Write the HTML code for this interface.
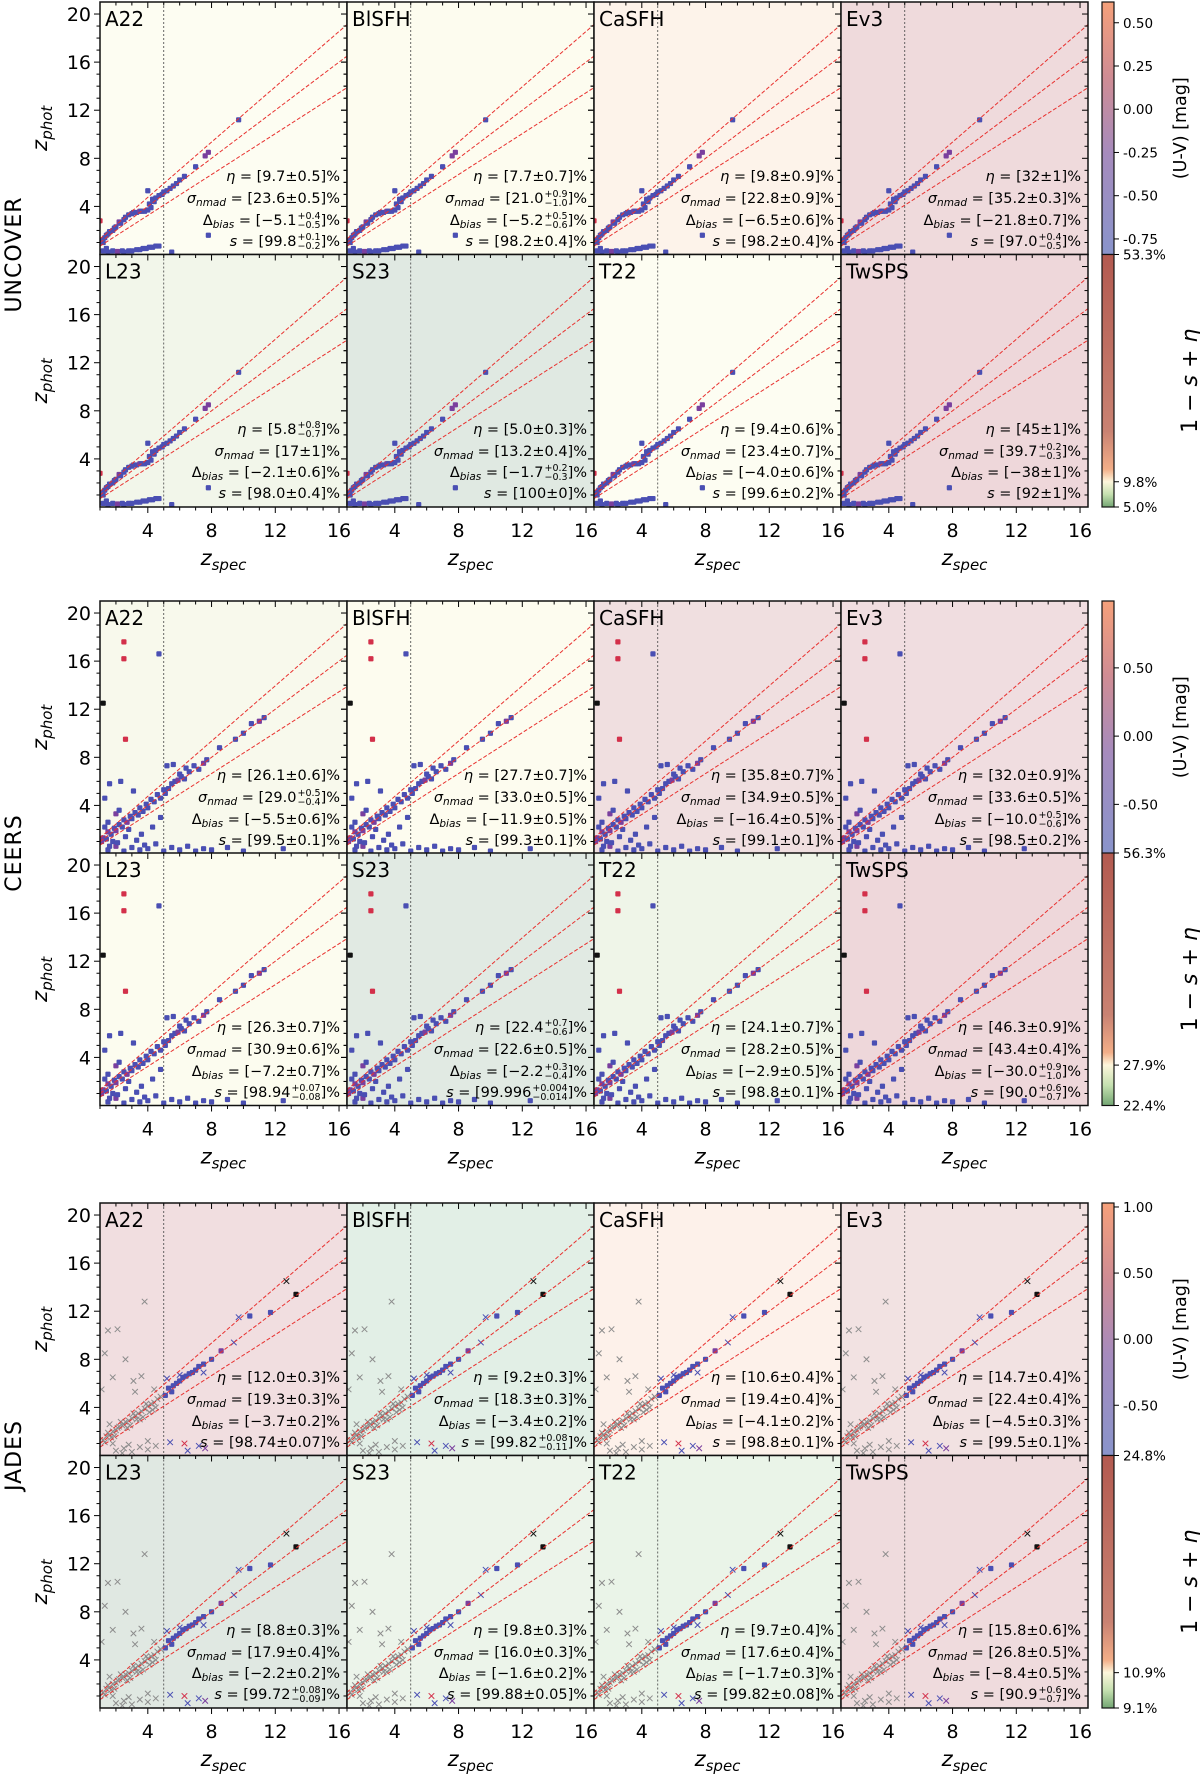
<!DOCTYPE html>
<html><head><meta charset="utf-8">
<style>
html,body{margin:0;padding:0;background:#fff;}
#wrap{position:relative;width:1200px;height:1774px;overflow:hidden;font-family:"DejaVu Sans","Liberation Sans",sans-serif;}
svg{position:absolute;left:0;top:0;}
.stat{position:absolute;font-size:14.5px;line-height:16px;white-space:nowrap;color:#000;transform:translateY(-50%);}
.stat sub{font-size:10.5px;vertical-align:-3px;line-height:0;}
.st{display:inline-block;vertical-align:middle;font-size:9.5px;line-height:9px;text-align:left;margin-left:1px;}
.st span{display:block;}
</style></head>
<body>
<div id="wrap">
<svg id="fig" width="1200" height="1774" xmlns="http://www.w3.org/2000/svg"></svg>
</div>
<script>
// ---------- data ----------
const surveys = ["UNCOVER","CEERS","JADES"];
const models = [["A22","BlSFH","CaSFH","Ev3"],["L23","S23","T22","TwSPS"]];
const bgColors = [
 [["#fdfdf2","#fdfcef","#fdf3ea","#efdadc"],["#f2f6ea","#e0e9e2","#fdfdf2","#eed7da"]],
 [["#f8f9ec","#fdfcef","#f0dfe0","#f0dde0"],["#fcfcef","#e1eae3","#eff5e8","#eed7da"]],
 [["#f1dee0","#e2efe6","#fdf1ea","#f2e2e2"],["#e0e8e2","#ecf4ea","#eaf4e8","#efdbdd"]]
];
const etaVals = [
 [["9.7±0.5","7.7±0.7","9.8±0.9","32±1"],["5.8|+0.8|-0.7","5.0±0.3","9.4±0.6","45±1"]],
 [["26.1±0.6","27.7±0.7","35.8±0.7","32.0±0.9"],["26.3±0.7","22.4|+0.7|-0.6","24.1±0.7","46.3±0.9"]],
 [["12.0±0.3","9.2±0.3","10.6±0.4","14.7±0.4"],["8.8±0.3","9.8±0.3","9.7±0.4","15.8±0.6"]]
];
const sigmaVals = [
 [["23.6±0.5","21.0|+0.9|-1.0","22.8±0.9","35.2±0.3"],["17±1","13.2±0.4","23.4±0.7","39.7|+0.2|-0.3"]],
 [["29.0|+0.5|-0.4","33.0±0.5","34.9±0.5","33.6±0.5"],["30.9±0.6","22.6±0.5","28.2±0.5","43.4±0.4"]],
 [["19.3±0.3","18.3±0.3","19.4±0.4","22.4±0.4"],["17.9±0.4","16.0±0.3","17.6±0.4","26.8±0.5"]]
];
const biasVals = [
 [["-5.1|+0.4|-0.5","-5.2|+0.5|-0.6","-6.5±0.6","-21.8±0.7"],["-2.1±0.6","-1.7|+0.2|-0.3","-4.0±0.6","-38±1"]],
 [["-5.5±0.6","-11.9±0.5","-16.4±0.5","-10.0|+0.5|-0.6"],["-7.2±0.7","-2.2|+0.3|-0.4","-2.9±0.5","-30.0|+0.9|-1.0"]],
 [["-3.7±0.2","-3.4±0.2","-4.1±0.2","-4.5±0.3"],["-2.2±0.2","-1.6±0.2","-1.7±0.3","-8.4±0.5"]]
];
const sVals = [
 [["99.8|+0.1|-0.2","98.2±0.4","98.2±0.4","97.0|+0.4|-0.5"],["98.0±0.4","100±0","99.6±0.2","92±1"]],
 [["99.5±0.1","99.3±0.1","99.1±0.1","98.5±0.2"],["98.94|+0.07|-0.08","99.996|+0.004|-0.014","98.8±0.1","90.0|+0.6|-0.7"]],
 [["98.74±0.07","99.82|+0.08|-0.11","98.8±0.1","99.5±0.1"],["99.72|+0.08|-0.09","99.88±0.05","99.82±0.08","90.9|+0.6|-0.7"]]
];
const xTicks = [4,8,12,16];
const yTicks = [4,8,12,16,20];
// UNCOVER points
const uZspec = [1.1,1.2,1.3,1.4,1.5,1.6,1.8,1.9,2.0,2.2,2.3,2.5,2.6,2.8,3.0,3.1,3.3,3.5,3.6,3.8,4.0,4.1,4.2,4.3,4.4,4.5,4.7,4.9,5.0,5.2,5.4,5.6,5.8,6.0,6.3,7.0,7.6,7.8,9.7,1.0,1.2,1.5,1.8,2.1,2.5,2.8,3.0,3.3,3.5,3.7,3.9,4.1,4.3,4.5,4.7,5.5,4.0,7.8,1.4,2.4];
const uZphot = [1.2,1.0,1.4,1.6,1.7,1.9,2.0,2.2,2.3,2.7,2.6,2.9,3.1,3.3,3.4,3.5,3.5,3.6,3.6,3.6,3.7,4.2,3.9,4.6,4.4,4.7,4.9,5.0,5.2,5.3,5.5,5.7,5.9,6.2,6.5,7.3,8.2,8.5,11.2,2.8,0.3,0.2,0.3,0.25,0.2,0.3,0.3,0.4,0.4,0.5,0.5,0.6,0.6,0.7,0.7,0.2,5.3,1.6,0.5,0.3];
const uColor = "bbbbbbbbbpbbbbbbbpbbbbbbbbbbbbbbbbbbppbrbbbpbbbbbbbbbbbbbbbb";
// CEERS points
const cZspec = [1.2,1.4,1.5,1.7,1.9,2.0,2.2,2.4,2.5,2.7,2.9,3.0,3.2,3.4,3.5,3.7,3.9,4.0,4.2,4.4,4.6,4.8,5.0,5.1,5.3,5.5,5.7,5.9,6.1,6.3,6.6,6.9,7.2,7.5,7.7,8.5,9.5,10.0,10.5,11.0,11.3,1.3,1.6,2.0,2.3,2.8,3.1,3.6,4.3,4.8,5.2,1.5,2.0,2.5,3.0,3.5,4.0,4.5,5.0,5.5,6.0,6.5,7.0,7.5,8.0,9.0,10.0,12.5,1.5,1.8,2.2,2.5,2.5,4.7,2.6,1.2,1.1,1.3,1.6,2.1,2.6,3.3,3.8,5.6,6.0,6.4];
const cZphot = [1.3,1.2,1.8,1.6,2.1,1.9,2.4,2.2,2.8,2.6,3.1,2.9,3.4,3.2,3.8,3.5,4.1,3.8,4.5,4.3,4.9,4.6,5.3,5.0,5.4,5.8,6.0,6.1,6.4,6.2,6.8,7.3,7.0,7.5,7.8,8.8,9.5,10.0,10.8,11.0,11.3,4.6,5.8,3.3,6.0,2.0,5.2,1.6,2.2,3.0,7.3,0.3,0.6,0.2,0.5,0.3,0.4,0.8,0.2,0.5,0.3,0.6,0.2,0.4,0.3,0.5,0.2,0.4,2.6,1.0,3.6,17.6,16.2,16.6,9.5,12.5,1.0,2.2,0.6,0.9,1.4,1.1,0.7,7.4,6.6,7.1];
const cColor = "pbpbbpbbbpbbbbbbbbbbbbbbbbbpbbbbbpbbbbbpbbbpbbbbbbbbpbbbbbbbbbbbbbbbbbbrrbrkpbbbbbbbbb";
// JADES points: 58 grey crosses, 18 dots, 11 crosses
const jZspec = [1.2,1.4,1.6,1.8,2.0,2.2,2.4,2.6,2.8,3.0,3.2,3.4,3.6,3.8,4.0,4.2,4.4,4.6,4.8,1.5,1.9,2.3,2.7,3.1,3.5,3.9,4.3,1.3,1.5,1.8,2.1,2.6,3.1,3.8,4.4,2.0,2.5,3.0,3.5,4.0,4.5,1.8,2.8,1.3,1.7,2.1,2.5,2.9,3.3,3.7,4.1,4.5,3.2,3.6,1.1,1.6,4.0,2.4,
 5.1,5.3,5.5,5.6,5.8,6.0,6.2,6.4,6.6,6.8,7.0,7.2,7.5,8.0,8.6,10.4,11.7,13.3,
 5.2,6.0,7.5,9.4,9.7,5.4,6.3,7.2,7.6,6.5,12.7];
const jZphot = [1.3,1.6,1.7,2.0,2.1,2.4,2.5,2.8,2.9,3.1,3.3,3.5,3.7,3.9,4.1,4.3,4.4,4.7,4.9,1.9,1.6,2.8,2.3,3.5,3.0,4.3,3.8,8.5,10.4,6.5,10.5,8.0,6.2,12.8,5.5,0.4,0.6,0.3,0.7,0.5,0.8,1.0,0.9,1.1,1.5,2.3,2.6,2.5,3.0,3.2,3.6,4.0,5.3,6.6,5.5,2.6,1.2,0.2,
 5.0,5.6,5.3,5.8,6.0,6.2,6.5,6.6,6.8,6.9,7.1,7.4,7.6,8.0,8.7,11.6,11.9,13.4,
 6.4,6.7,6.9,9.4,11.5,1.1,1.0,0.8,0.6,0.4,14.5];
const jColor = "g".repeat(58) + "bbbbbbbbbbbbbbpbbk" + "bbbbbbrbpbk";
const jMarker = "x".repeat(58) + "o".repeat(18) + "x".repeat(11);
const cbTopTicks = [[0.50,0.25,0.00,-0.25,-0.50,-0.75],[0.50,0.00,-0.50],[1.00,0.50,0.00,-0.50]];
const cbTopRange = [[0.62,-0.84],[0.99,-0.86],[1.03,-0.88]];
const cbBotLabels = [["53.3%","9.8%","5.0%"],["56.3%","27.9%","22.4%"],["24.8%","10.9%","9.1%"]];
const cbBotMidFrac = [0.90,0.84,0.86];

// ---------- geometry ----------
const colX = [100,347,594,841];
const PW = 247, PH = 252.5;
const rowTops = [[2,254.5],[601,853],[1203,1455.5]];
const XMIN = 1, XMAX = 16.5, YMIN = 0, YMAX = 21;
const svg = document.getElementById('fig');
const wrap = document.getElementById('wrap');
const NS = "http://www.w3.org/2000/svg";
const FF = 'DejaVu Sans, Liberation Sans, sans-serif';
function mk(tag, attrs, parent){ const e=document.createElementNS(NS,tag); for(const k in attrs) e.setAttribute(k,attrs[k]); (parent||svg).appendChild(e); return e; }
function xs(left,v){ return left + (v-XMIN)/(XMAX-XMIN)*PW; }
function ys(top,v){ return top + (YMAX-v)/(YMAX-YMIN)*PH; }
const colMap = {b:"#4a4fb3",p:"#7a3f9e",r:"#d3304a",k:"#111111",g:"#8c8c8c"};
const pointSets = [
 {zs:uZspec,zp:uZphot,c:uColor,m:null},
 {zs:cZspec,zp:cZphot,c:cColor,m:null},
 {zs:jZspec,zp:jZphot,c:jColor,m:jMarker}
];
function fmt(v){
  if(v.indexOf('|')>=0){ const p=v.split('|'); return p[0].replace('-','−')+'<span class="st"><span>'+p[1]+'</span><span>'+p[2].replace('-','−')+'</span></span>'; }
  return v.replace('-','−');
}

let clipId=0;
for(let g=0; g<3; g++){
  for(let r=0; r<2; r++){
    const top = rowTops[g][r];
    for(let c=0; c<4; c++){
      const left = colX[c];
      const pg = mk('g',{});
      
      
      const bg = mk('rect',{x:left,y:top,width:PW,height:PH,fill:bgColors[g][r][c]},pg);
      
      
      const cp = mk('clipPath',{id:'cp'+clipId},pg);
      mk('rect',{x:left,y:top,width:PW,height:PH},cp);
      const inner = mk('g',{'clip-path':'url(#cp'+clipId+')'},pg);
      clipId++;
      const vl = mk('line',{x1:xs(left,5),x2:xs(left,5),y1:top,y2:top+PH,stroke:'#444','stroke-width':0.8,'stroke-dasharray':'2,2'},inner);
      
      
      const ps = pointSets[g];
      for(let i=0;i<ps.zs.length;i++){
        const px = xs(left,ps.zs[i]), py = ys(top,ps.zp[i]);
        const col = colMap[ps.c[i]] || colMap.b;
        const mark = ps.m ? ps.m[i] : 'o';
        let el;
        if(mark==='x'){
          el = mk('path',{d:`M${px-2.8},${py-2.8}L${px+2.8},${py+2.8}M${px-2.8},${py+2.8}L${px+2.8},${py-2.8}`,stroke:col,'stroke-width':1,fill:'none'},inner);
        } else {
          el = mk('rect',{x:px-2.6,y:py-2.6,width:5.2,height:5.2,rx:1,fill:col},inner);
        }
        
        
      }
      [1.15,1.0,0.85].forEach(f=>{
        const l = mk('line',{x1:xs(left,XMIN),y1:ys(top,(1+XMIN)*f-1),x2:xs(left,XMAX),y2:ys(top,(1+XMAX)*f-1),stroke:'#e8312f','stroke-width':1,'stroke-dasharray':'4,2'},inner);
        
        
      });
      for(let v=1; v<=16; v++){
        const major = v%4===0, px = xs(left,v), L = major?6:3.5;
        mk('line',{x1:px,x2:px,y1:top+PH,y2:top+PH+L,stroke:'#000','stroke-width':1},pg);
        mk('line',{x1:px,x2:px,y1:top,y2:top+L,stroke:'#000','stroke-width':1},pg);
      }
      for(let v=1; v<=20; v++){
        const major = v%4===0, py = ys(top,v), L = major?6:3.5;
        mk('line',{x1:left-L,x2:left,y1:py,y2:py,stroke:'#000','stroke-width':1},pg);
        mk('line',{x1:left+PW-L,x2:left+PW,y1:py,y2:py,stroke:'#000','stroke-width':1},pg);
      }
      const fr = mk('rect',{x:left,y:top,width:PW,height:PH,fill:'none',stroke:'#111','stroke-width':1.5},pg);
      
      
      const lab = mk('text',{x:left+5,y:top+24,'font-size':20,'font-family':FF},pg);
      lab.textContent = models[r][c];
      
      
      if(c===0){
        yTicks.forEach(t=>{
          const tl = mk('text',{x:left-9,y:ys(top,t)+7,'text-anchor':'end','font-size':19,'font-family':FF},pg);
          tl.textContent = t;
          
          
        });
        const yt = mk('text',{x:0,y:0,transform:`translate(47,${top+PH/2}) rotate(-90)`,'text-anchor':'middle','font-size':21,'font-style':'italic','font-family':FF},pg);
        yt.innerHTML = 'z<tspan font-size="15" dy="5">phot</tspan>';
        
        
      }
      if(r===1){
        xTicks.forEach(t=>{
          const tl = mk('text',{x:xs(left,t),y:top+PH+30,'text-anchor':'middle','font-size':19,'font-family':FF},pg);
          tl.textContent = t;
          
          
        });
        const xt = mk('text',{x:left+PW/2,y:top+PH+58,'text-anchor':'middle','font-size':21,'font-style':'italic','font-family':FF},pg);
        xt.innerHTML = 'z<tspan font-size="15" dy="5">spec</tspan>';
        
        
      }
      const lines = [
        ['<i>η</i> = ['+fmt(etaVals[g][r][c])+']%', 175, 'eta-stat'],
        ['<i>σ<sub>nmad</sub></i> = ['+fmt(sigmaVals[g][r][c])+']%', 197, 'sigma-nmad-stat'],
        ['Δ<sub><i>bias</i></sub> = ['+fmt(biasVals[g][r][c])+']%', 218.5, 'bias-stat'],
        ['<i>s</i> = ['+fmt(sVals[g][r][c])+']%', 239.5, 's-stat']
      ];
      lines.forEach(L=>{
        const d = document.createElement('div');
        d.className = 'stat';
        d.style.right = (1200-(left+PW-7))+'px';
        d.style.top = (top+L[1])+'px';
        d.innerHTML = L[0];
        
        
        wrap.appendChild(d);
      });
    }
  }
  const mid = rowTops[g][1];
  const sl = mk('text',{x:0,y:0,transform:`translate(21,${mid}) rotate(-90)`,'text-anchor':'middle','font-size':22,'letter-spacing':'1','font-family':FF});
  sl.textContent = surveys[g];
  
  
  const cx = 1102, cw = 12, t0 = rowTops[g][0], t1 = rowTops[g][1];
  const defs = mk('defs',{});
  const gt = mk('linearGradient',{id:'gt'+g,x1:0,y1:0,x2:0,y2:1},defs);
  [['0','#f5a07a'],['0.3','#cf8c94'],['0.6','#a68bbd'],['1','#8994cb']].forEach(s=>mk('stop',{offset:s[0],'stop-color':s[1]},gt));
  const gb = mk('linearGradient',{id:'gb'+g,x1:0,y1:0,x2:0,y2:1},defs);
  const mf = cbBotMidFrac[g];
  [['0','#b35a50'],[String(mf-0.2),'#c98272'],[String(mf-0.05),'#f2ae88'],[String(mf),'#fdf6dc'],[String((1+mf)/2),'#c5e0b0'],['1','#73a673']].forEach(s=>mk('stop',{offset:s[0],'stop-color':s[1]},gb));
  const cbt = mk('rect',{x:cx,y:t0,width:cw,height:PH,fill:`url(#gt${g})`,stroke:'#111','stroke-width':1.2});
  
  
  const cbb = mk('rect',{x:cx,y:t1,width:cw,height:PH,fill:`url(#gb${g})`,stroke:'#111','stroke-width':1.2});
  
  
  const rng = cbTopRange[g];
  cbTopTicks[g].forEach(v=>{
    const py = t0 + (rng[0]-v)/(rng[0]-rng[1])*PH;
    mk('line',{x1:cx+cw,x2:cx+cw+5,y1:py,y2:py,stroke:'#000','stroke-width':1});
    const tl = mk('text',{x:cx+cw+9,y:py+5,'font-size':13.5,'font-family':FF});
    tl.textContent = v.toFixed(2);
    
    
  });
  const bl = cbBotLabels[g];
  [[t1,bl[0]],[t1+mf*PH,bl[1]],[t1+PH,bl[2]]].forEach(a=>{
    mk('line',{x1:cx+cw,x2:cx+cw+5,y1:a[0],y2:a[0],stroke:'#000','stroke-width':1});
    const tl = mk('text',{x:cx+cw+9,y:a[0]+5,'font-size':13.5,'font-family':FF});
    tl.textContent = a[1];
    
    
  });
  const ct = mk('text',{x:0,y:0,transform:`translate(1186,${t0+PH/2}) rotate(-90)`,'text-anchor':'middle','font-size':17.5,'font-family':FF});
  ct.textContent = '(U-V) [mag]';
  
  
  const cs = mk('text',{x:0,y:0,transform:`translate(1197,${t1+PH/2}) rotate(-90)`,'text-anchor':'middle','font-size':22,'font-family':FF});
  cs.innerHTML = '1 − <tspan font-style="italic">s</tspan> + <tspan font-style="italic">η</tspan>';
  
  
}
</script>
</body></html>
